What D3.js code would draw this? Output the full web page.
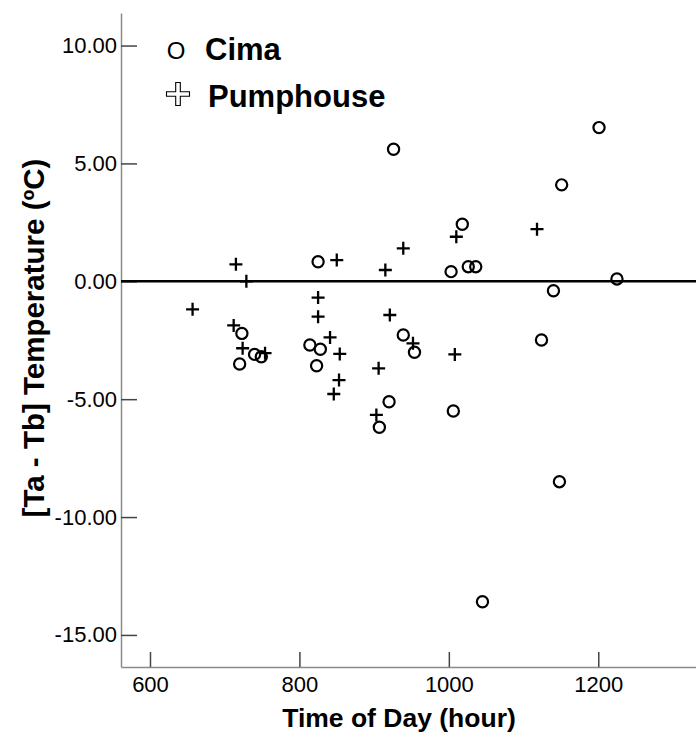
<!DOCTYPE html>
<html>
<head>
<meta charset="utf-8">
<script src="https://cdn.jsdelivr.net/npm/d3@7"></script>
<style>
  body { margin: 0; background: #fff; }
  svg { display: block; font-family: Arial, "Liberation Sans", sans-serif; }
</style>
</head>
<body>
<svg id="drawing_scatter"></svg>
<script>
// Cima site: time of day and [Ta - Tb]
const cimaTime = [723, 720, 740, 749, 825, 814, 828, 823, 939, 954, 920, 907, 926,
                  1201, 1151, 1018, 1003, 1026, 1036, 1140, 1225, 1124, 1006, 1148, 1045];
const cimaDiff = [-2.21, -3.51, -3.10, -3.20, 0.83, -2.70, -2.88, -3.58, -2.28, -3.01, -5.11, -6.19, 5.60,
                  6.52, 4.09, 2.42, 0.41, 0.62, 0.62, -0.40, 0.10, -2.49, -5.50, -8.50, -13.59];

// Pumphouse site
const pumpTime = [715, 729, 657, 712, 724, 754, 850, 825, 825, 841, 854, 853, 846,
                  939, 915, 921, 906, 903, 952, 1010, 1118, 1008];
const pumpDiff = [0.72, 0.00, -1.19, -1.87, -2.84, -3.05, 0.90, -0.69, -1.50, -2.38, -3.08, -4.19, -4.78,
                  1.40, 0.48, -1.43, -3.69, -5.67, -2.63, 1.89, 2.21, -3.10];

const seriesNames = ['Cima', 'Pumphouse'];
const xTicks = [600, 800, 1000, 1200];
const yTicks = [-15, -10, -5, 0, 5, 10];

class ScatterChart {
    constructor() {
        this.width = 696;
        this.height = 741;
        this.margin = { top: 13, right: 0, bottom: 74, left: 121 };
        this.xscale = null;
        this.yscale = null;
    }

    init() {
        this.svg = d3.select('#drawing_scatter')
            .attr('width', this.width)
            .attr('height', this.height);

        this.chart = this.svg.append('g')
            .attr('transform', `translate(${this.margin.left}, ${this.margin.top})`);

        this.innerWidth = this.width - this.margin.left - this.margin.right;
        this.innerHeight = this.height - this.margin.top - this.margin.bottom;

        this.xscale = d3.scaleLinear()
            .domain([561.2, 1330.8])
            .range([0, this.innerWidth]);

        this.yscale = d3.scaleLinear()
            .domain([-16.36, 11.38])
            .range([this.innerHeight, 0]);

        this.axes();
        this.render();
        this.legend();
    }

    axes() {
        // ticks point into the plot, like SPSS
        const xaxis = d3.axisBottom(this.xscale)
            .tickValues(xTicks)
            .tickFormat(d3.format('d'))
            .tickSizeInner(-15)
            .tickSizeOuter(0)
            .tickPadding(9);

        // plain hyphen for negatives, not the unicode minus
        const yaxis = d3.axisLeft(this.yscale)
            .tickValues(yTicks)
            .tickFormat(d => d.toFixed(2))
            .tickSizeInner(-16)
            .tickSizeOuter(0)
            .tickPadding(4);

        const gx = this.chart.append('g')
            .attr('transform', `translate(0, ${this.innerHeight})`)
            .call(xaxis);
        const gy = this.chart.append('g').call(yaxis);

        [gx, gy].forEach(g => {
            g.select('.domain').attr('stroke', '#8a8a8a').attr('stroke-width', 1.5);
            g.selectAll('.tick line').attr('stroke', '#444').attr('stroke-width', 1.5);
            g.selectAll('.tick text')
                .attr('fill', '#000')
                .style('font-size', '22px')
                .style('font-family', 'Arial, "Liberation Sans", sans-serif');
        });

        // axis titles
        this.svg.append('text')
            .attr('x', 399)
            .attr('y', 727)
            .attr('text-anchor', 'middle')
            .style('font-size', '26.5px')
            .style('font-weight', 'bold')
            .text('Time of Day (hour)');

        this.svg.append('text')
            .attr('transform', 'translate(44, 338) rotate(-90)')
            .attr('text-anchor', 'middle')
            .style('font-size', '29.5px')
            .style('font-weight', 'bold')
            .text('[Ta - Tb] Temperature (ºC)');
    }

    render() {
        // reference line at 0
        this.chart.append('line')
            .attr('x1', 0)
            .attr('x2', this.innerWidth)
            .attr('y1', this.yscale(0))
            .attr('y2', this.yscale(0))
            .attr('stroke', '#000')
            .attr('stroke-width', 2.5);

        const pump = pumpTime.map((t, i) => ({ x: t, y: pumpDiff[i] }));
        const cima = cimaTime.map((t, i) => ({ x: t, y: cimaDiff[i] }));

        this.chart.selectAll('path.pump')
            .data(pump)
            .enter()
            .append('path')
            .attr('class', 'pump')
            .attr('transform', d => `translate(${this.xscale(d.x)}, ${this.yscale(d.y)})`)
            .attr('d', 'M-6.5,0H6.5M0,-6.5V6.5')
            .attr('stroke', '#000')
            .attr('stroke-width', 2.3)
            .attr('fill', 'none');

        this.chart.selectAll('circle.cima')
            .data(cima)
            .enter()
            .append('circle')
            .attr('class', 'cima')
            .attr('cx', d => this.xscale(d.x))
            .attr('cy', d => this.yscale(d.y))
            .attr('r', 5.6)
            .attr('stroke', '#000')
            .attr('stroke-width', 2.2)
            .attr('fill', 'none');
    }

    legend() {
        const lg = this.svg.append('g');

        // circle key is a plain "O" glyph
        lg.append('text')
            .attr('x', 176)
            .attr('y', 59)
            .attr('text-anchor', 'middle')
            .style('font-size', '24px')
            .text('O');

        // hollow plus for the second key
        lg.append('path')
            .attr('transform', 'translate(178, 94)')
            .attr('d', 'M-2.3,-11.5H2.3V-2.3H11.5V2.3H2.3V11.5H-2.3V2.3H-11.5V-2.3H-2.3Z')
            .attr('fill', '#fff')
            .attr('stroke', '#000')
            .attr('stroke-width', 1.1);

        lg.selectAll('text.name')
            .data(seriesNames)
            .enter()
            .append('text')
            .attr('class', 'name')
            .attr('x', (d, i) => i === 0 ? 205 : 208)
            .attr('y', (d, i) => i === 0 ? 60 : 107)
            .style('font-size', '31px')
            .style('font-weight', 'bold')
            .text(d => d);
    }
}

const chart = new ScatterChart();
chart.init();
</script>
</body>
</html>
